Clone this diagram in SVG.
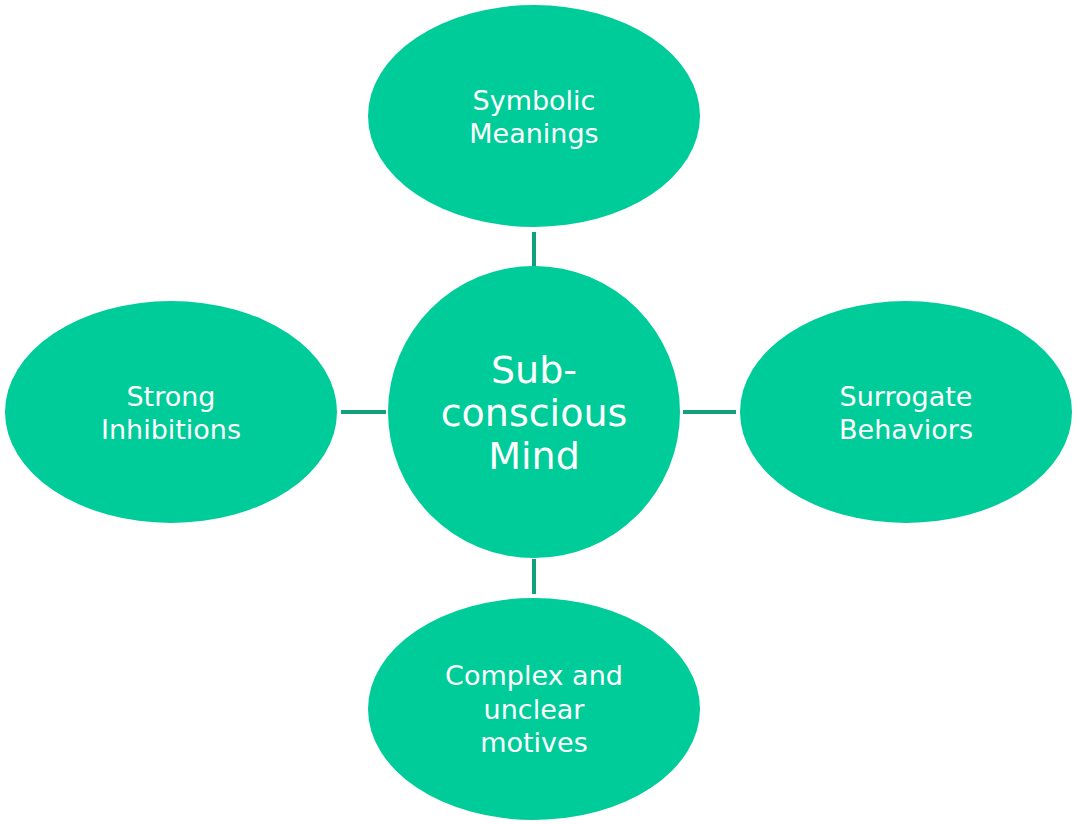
<svg xmlns="http://www.w3.org/2000/svg" width="1076" height="824" viewBox="0 0 1076 824">
<style>
.n{fill:#00cc99}
.t{font-family:"DejaVu Sans",Verdana,sans-serif;font-size:27px;fill:#fff;text-anchor:middle}
.c{font-size:38px}
.l{stroke:#12a07e;stroke-width:4;fill:none}
</style>
<rect width="1076" height="824" fill="#fff"/>
<g id="connectors">
<line class="l" x1="534" y1="232" x2="534" y2="266"/>
<line class="l" x1="534" y1="559" x2="534" y2="594"/>
<line class="l" x1="341" y1="412" x2="386" y2="412"/>
<line class="l" x1="683" y1="412" x2="736" y2="412"/>
</g>
<g id="center"><circle class="n" cx="534" cy="412" r="146"/>
<text class="t c" x="534" y="383">Sub-</text><text class="t c" x="534" y="426">conscious</text><text class="t c" x="534" y="469">Mind</text></g>
<g id="top"><ellipse class="n" cx="534" cy="116" rx="166" ry="111"/>
<text class="t" x="534" y="110">Symbolic</text><text class="t" x="534" y="143">Meanings</text></g>
<g id="left"><ellipse class="n" cx="171" cy="412" rx="166" ry="111"/>
<text class="t" x="171" y="406">Strong</text><text class="t" x="171" y="439">Inhibitions</text></g>
<g id="right"><ellipse class="n" cx="906" cy="412" rx="166" ry="111"/>
<text class="t" x="906" y="406">Surrogate</text><text class="t" x="906" y="439">Behaviors</text></g>
<g id="bottom"><ellipse class="n" cx="534" cy="709" rx="166" ry="111"/>
<text class="t" x="534" y="685">Complex and</text><text class="t" x="534" y="719">unclear</text><text class="t" x="534" y="752">motives</text></g>
</svg>
